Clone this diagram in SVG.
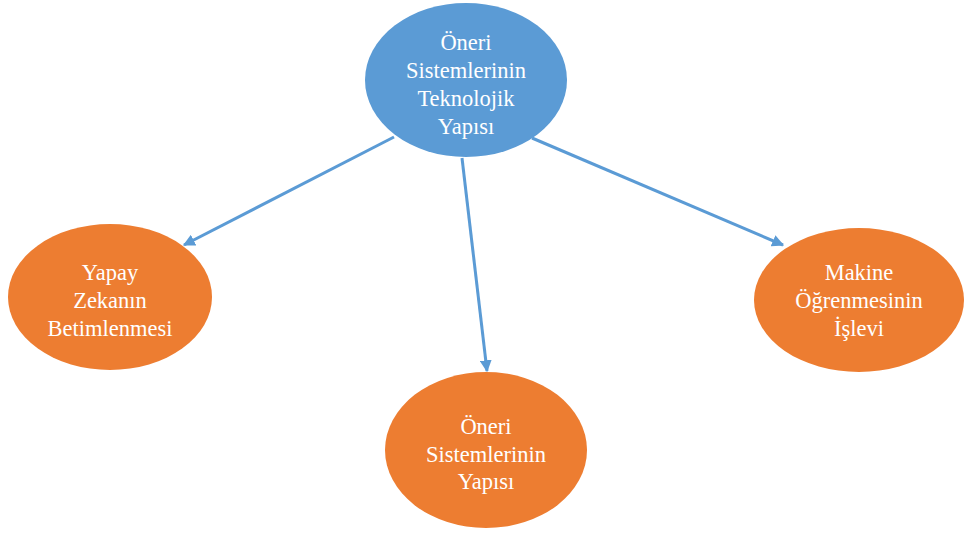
<svg xmlns="http://www.w3.org/2000/svg" width="966" height="534" viewBox="0 0 966 534">
  <defs>
    <style>
      .root { fill: #5B9BD5; }
      .leaf { fill: #ED7D31; }
      .lbl { font-family: "Liberation Serif", "Times New Roman", serif; font-size: 22.5px; fill: #FFFFFF; text-anchor: middle; }
      .edge { stroke: #5B9BD5; stroke-width: 3; fill: none; marker-end: url(#arrow); }
    </style>
    <marker id="arrow" viewBox="0 0 10 10" refX="9" refY="5" markerWidth="4" markerHeight="4" orient="auto" markerUnits="strokeWidth">
      <path d="M0,0 L10,5 L0,10 z" fill="#5B9BD5"/>
    </marker>
  </defs>
  <rect width="966" height="534" fill="#FFFFFF"/>

  <g id="connectors">
    <line class="edge" x1="394" y1="137" x2="184" y2="245"/>
    <line class="edge" x1="462" y1="158" x2="487" y2="371"/>
    <line class="edge" x1="532" y1="138" x2="783" y2="245"/>
  </g>

  <g id="node-root">
    <ellipse class="root" cx="466" cy="80" rx="101" ry="77"/>
    <text class="lbl" x="466" y="50">Öneri</text>
    <text class="lbl" x="466" y="78">Sistemlerinin</text>
    <text class="lbl" x="466" y="106">Teknolojik</text>
    <text class="lbl" x="466" y="134">Yapısı</text>
  </g>

  <g id="node-ai">
    <ellipse class="leaf" cx="110" cy="297" rx="102" ry="73"/>
    <text class="lbl" x="110" y="280">Yapay</text>
    <text class="lbl" x="110" y="308">Zekanın</text>
    <text class="lbl" x="110" y="336">Betimlenmesi</text>
  </g>

  <g id="node-ml">
    <ellipse class="leaf" cx="859" cy="300" rx="105" ry="72"/>
    <text class="lbl" x="859" y="280">Makine</text>
    <text class="lbl" x="859" y="308">Öğrenmesinin</text>
    <text class="lbl" x="859" y="336">İşlevi</text>
  </g>

  <g id="node-structure">
    <ellipse class="leaf" cx="486" cy="450" rx="101" ry="78"/>
    <text class="lbl" x="486" y="434">Öneri</text>
    <text class="lbl" x="486" y="462">Sistemlerinin</text>
    <text class="lbl" x="486" y="489">Yapısı</text>
  </g>
</svg>
